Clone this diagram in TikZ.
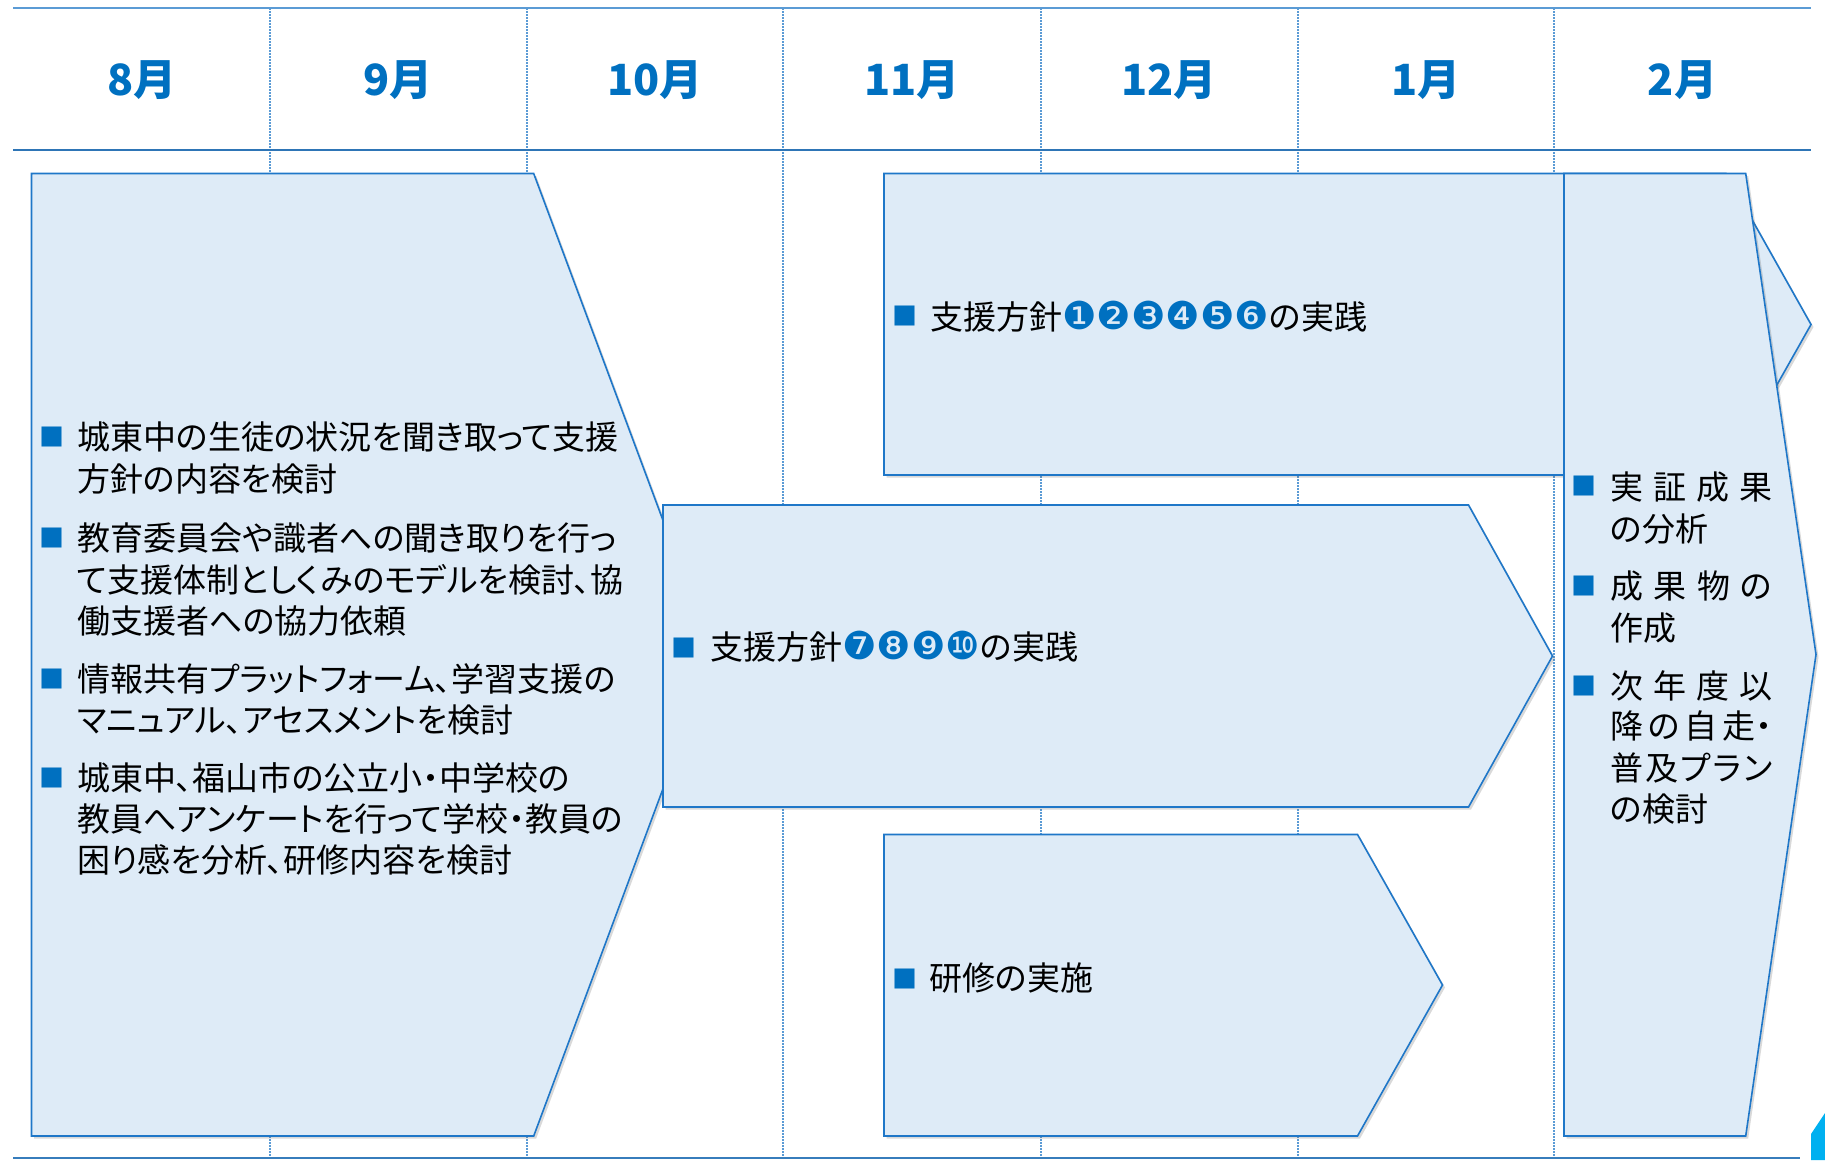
\documentclass[tikz,border=0pt]{standalone}
\usepackage{fontspec}
\setmainfont{Noto Sans CJK JP}[RawFeature=+palt]
\newfontfamily\dingfont{DejaVu Sans}
\usetikzlibrary{shadows}
\definecolor{boxfill}{HTML}{DEEBF7}
\definecolor{boxline}{HTML}{1F77C8}
\definecolor{accent}{HTML}{0070C0}
\definecolor{hdrtop}{HTML}{5B9BD5}
\definecolor{hdrbot}{HTML}{2E75B6}
\definecolor{cyanbar}{HTML}{00B0F0}
\newcommand{\circnum}[1]{{\dingfont\fontsize{38.5}{44}\selectfont\color{accent}#1}}
\newcommand{\jline}[1]{\makebox[162pt][s]{#1}}
\begin{document}
\begin{tikzpicture}[x=1pt,y=-1pt,
  chev/.style={fill=boxfill, draw=boxline, line width=1.6pt, line join=miter,
    drop shadow={shadow xshift=2.5pt, shadow yshift=-2.5pt, opacity=0.25, fill=black!60}},
  month/.style={font=\fontsize{43}{50}\selectfont\bfseries, text=accent, inner sep=0},
  ln/.style={anchor=west, inner sep=0, text height=29pt, text depth=4pt, font=\fontsize{33}{40}\selectfont},
  bul/.style={inner sep=0, text=accent, font=\fontsize{25}{30}\selectfont},
  grid/.style={draw=hdrtop, line width=1.1pt, dash pattern=on 1.5pt off 1.5pt}]
\useasboundingbox (0,0) rectangle (1825,1160);
% dotted column separators
\foreach \x in {270,527,783,1041,1298,1554}{
  \draw[grid] (\x,8) -- (\x,1158);
}
% header lines
\draw[draw=hdrtop, line width=2.6pt] (13,8) -- (1811,8);
\draw[draw=hdrbot, line width=2pt] (13,150) -- (1811,150);
\draw[draw=hdrbot!80!hdrtop, line width=2pt] (13,1158) -- (1800,1158);
\fill[cyanbar] (1811,1160) -- (1811,1134) -- (1825,1113) -- (1825,1160) -- cycle;
% months
\node[month] (m8) at (141.6,80) {8月};
\node[month] (m9) at (398.4,80) {9月};
\node[month] (m10) at (655.2,80) {10月};
\node[month] (m11) at (912,80) {11月};
\node[month] (m12) at (1168.8,80) {12月};
\node[month] (m1) at (1425.6,80) {1月};
\node[month] (m2) at (1682.4,80) {2月};
% shapes
\path[chev] (31.5,173.5) -- (533.7,173.5) -- (713,654.5) -- (533.7,1136) -- (31.5,1136) -- cycle;
\path[chev] (884,173.5) -- (1726,173.5) -- (1811,324.5) -- (1726,475) -- (884,475) -- cycle;
\path[chev] (663,505) -- (1468.5,505) -- (1552.5,656) -- (1468.5,807) -- (663,807) -- cycle;
\path[chev] (884,834.5) -- (1357.5,834.5) -- (1442.5,985) -- (1357.5,1136) -- (884,1136) -- cycle;
\path[chev] (1564,173.5) -- (1745.7,173.5) -- (1816,654.5) -- (1745.7,1136) -- (1564,1136) -- cycle;
% left box text
\node[bul] (lb1) at (51.5,437) {■};
\node[ln] (l11) at (77,437) {城東中の生徒の状況を聞き取って支援};
\node[ln] (l12) at (77,479) {方針の内容を検討};
\node[bul] (lb2) at (51.5,538) {■};
\node[ln] (l21) at (77,538) {教育委員会や識者への聞き取りを行っ};
\node[ln] (l22) at (77,580) {て支援体制としくみのモデルを検討、協};
\node[ln] (l23) at (77,621) {働支援者への協力依頼};
\node[bul] (lb3) at (51.5,679) {■};
\node[ln] (l31) at (77,679) {情報共有プラットフォーム、学習支援の};
\node[ln] (l32) at (77,720) {マニュアル、アセスメントを検討};
\node[bul] (lb4) at (51.5,778) {■};
\node[ln] (l41) at (77,778) {城東中、福山市の公立小・中学校の};
\node[ln] (l42) at (77,819) {教員へアンケートを行って学校・教員の};
\node[ln] (l43) at (77,860) {困り感を分析、研修内容を検討};
% top box
\node[bul] (tb) at (905,316) {■};
\node[ln] (tt) at (930,316.7) {支援方針\circnum{❶❷❸❹❺❻}の実践};
% middle box
\node[bul] (mb) at (683.5,647.5) {■};
\node[ln] (mt) at (710,647) {支援方針\circnum{❼❽❾❿}の実践};
% bottom box
\node[bul] (bb) at (904.5,978.5) {■};
\node[ln] (bt) at (929,978.3) {研修の実施};
% right box
\node[bul] (rb1) at (1584,486) {■};
\node[ln] (r11) at (1610,486.5) {\jline{実\hfill 証\hfill 成\hfill 果}};
\node[ln] (r12) at (1610,528.5) {の分析};
\node[bul] (rb2) at (1584,586) {■};
\node[ln] (r21) at (1610,586) {\jline{成\hfill 果\hfill 物\hfill の}};
\node[ln] (r22) at (1610,627.5) {作成};
\node[bul] (rb3) at (1584,686) {■};
\node[ln] (r31) at (1610,686) {\jline{次\hfill 年\hfill 度\hfill 以}};
\node[ln] (r32) at (1610,726) {\jline{降\hfill の\hfill 自\hfill 走・}};
\node[ln] (r33) at (1610,768) {\jline{普\hfill 及\hfill プ\hfill ラ\hfill ン}};
\node[ln] (r34) at (1610,809) {の検討};
\end{tikzpicture}
\end{document}
